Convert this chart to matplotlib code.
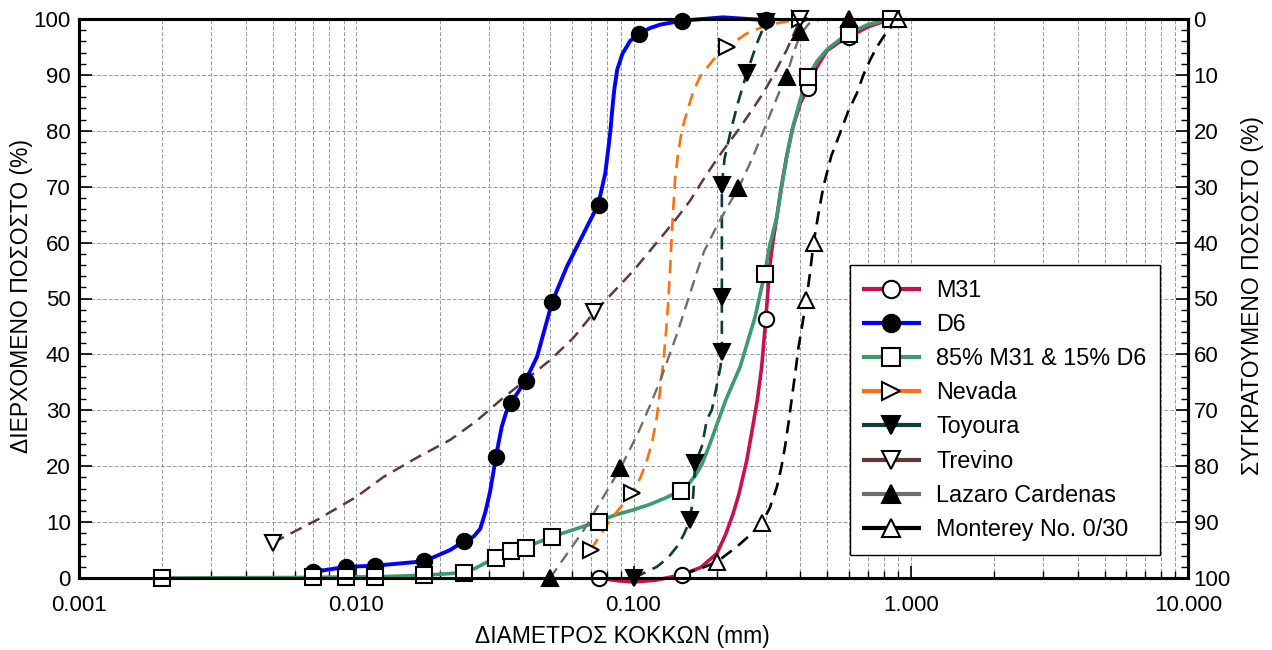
import matplotlib
matplotlib.use("Agg")
import matplotlib.pyplot as plt
from matplotlib.lines import Line2D
from matplotlib.ticker import FixedLocator, MultipleLocator, NullFormatter, LogLocator

plt.rcParams["font.family"] = ["Liberation Sans", "DejaVu Sans"]

# --- grading curves: (diameter mm, % passing) ---
# *_line_* = points, the rest = plotted markers
m31_line_d = [0.075, 0.088, 0.1, 0.12, 0.15, 0.175, 0.2, 0.215, 0.229, 0.24, 0.2561, 0.268,
              0.28, 0.29, 0.3, 0.305, 0.31, 0.319, 0.329, 0.34, 0.357, 0.375, 0.4, 0.425,
              0.46, 0.498, 0.55, 0.6, 0.7, 0.85]
m31_line_p = [0.0, -0.5, -0.7, -0.4, 0.6, 1.9, 4.4, 7.8, 11.6, 15.0, 21.0, 26.5,
              32.0, 37.8, 46.3, 51.0, 55.7, 60.5, 64.6, 69.5, 75.5, 80.5, 85.0, 87.6,
              91.5, 94.3, 95.8, 96.8, 98.6, 100]
m31_d = [0.075, 0.15, 0.3, 0.425, 0.6, 0.85]
m31_p = [0.0, 0.6, 46.3, 87.6, 96.8, 100]

d6_line_d = [0.007, 0.0092, 0.0117, 0.0176, 0.0218, 0.0245, 0.0265, 0.028, 0.0293, 0.0304,
             0.0312, 0.0319, 0.0327, 0.0335, 0.0347, 0.0361, 0.0408, 0.0449, 0.0509, 0.0575,
             0.0679, 0.0746, 0.0791, 0.0824, 0.0838, 0.0852, 0.0873, 0.0911, 0.0973, 0.105,
             0.115, 0.125, 0.15, 0.21, 0.3]
d6_line_p = [1.1, 2.0, 2.2, 3.0, 5.0, 6.6, 7.4, 8.8, 12.0, 15.5,
             18.8, 21.6, 24.5, 27.1, 29.6, 31.3, 35.3, 39.6, 49.4, 55.7,
             62.8, 66.8, 72.4, 79.6, 83.7, 87.3, 90.9, 93.7, 96.1, 97.4,
             98.4, 99.0, 99.7, 100.3, 99.8]
d6_d = [0.007, 0.0092, 0.0117, 0.0176, 0.0245, 0.0319, 0.0361, 0.0408, 0.0509, 0.075,
        0.105, 0.15, 0.3]
d6_p = [1.1, 2.0, 2.2, 3.0, 6.6, 21.6, 31.3, 35.3, 49.4, 66.8, 97.4, 99.7, 99.8]

mix_line_d = [0.002, 0.007, 0.0092, 0.0117, 0.0176, 0.0245, 0.027, 0.0295, 0.0319, 0.0361,
              0.0408, 0.0509, 0.0748, 0.085, 0.1, 0.115, 0.13, 0.148, 0.158, 0.168,
              0.1764, 0.188, 0.2, 0.215, 0.2425, 0.2745, 0.297, 0.31, 0.3288, 0.345,
              0.3573, 0.375, 0.399, 0.425, 0.46, 0.498, 0.55, 0.6, 0.7, 0.85]
mix_line_p = [0.0, 0.1, 0.2, 0.2, 0.5, 0.95, 1.8, 2.8, 3.5, 4.9,
              5.5, 7.4, 10.1, 11.2, 12.2, 13.2, 14.3, 15.6, 16.8, 18.5,
              20.3, 23.8, 27.5, 31.8, 37.8, 46.7, 54.4, 59.5, 64.6, 71.0,
              75.5, 80.5, 85.5, 89.6, 92.5, 94.5, 96.2, 97.4, 99.0, 100]
mix_d = [0.002, 0.007, 0.0092, 0.0117, 0.0176, 0.0245, 0.0319, 0.0361, 0.0408, 0.0509,
         0.075, 0.148, 0.297, 0.425, 0.6, 0.85]
mix_p = [0.0, 0.1, 0.2, 0.2, 0.5, 0.95, 3.5, 4.9, 5.3, 7.4, 10.1, 15.6, 54.4, 89.6, 97.4, 100]

nevada_line_d = [0.070, 0.0824, 0.099, 0.106, 0.1117, 0.117, 0.1214, 0.125, 0.1283, 0.131,
                 0.1337, 0.1356, 0.1375, 0.1395, 0.1413, 0.1445, 0.1474, 0.152, 0.158, 0.165,
                 0.174, 0.194, 0.217, 0.256, 0.303, 0.378, 0.40]
nevada_line_p = [5.0, 10.4, 15.2, 18.0, 21.0, 24.5, 28.8, 34.0, 39.0, 44.0,
                 50.0, 55.5, 61.7, 67.0, 71.5, 75.5, 78.4, 81.5, 84.3, 87.3,
                 89.7, 92.7, 95.0, 97.4, 98.9, 99.8, 100]
nevada_d = [0.070, 0.099, 0.217, 0.40]
nevada_p = [5.0, 15.2, 95.0, 100]

toyoura_line_d = [0.1, 0.105, 0.1214, 0.133, 0.1434, 0.152, 0.16, 0.164, 0.167, 0.1764,
                  0.1839, 0.1917, 0.206, 0.2083, 0.2083, 0.2083, 0.213, 0.2231, 0.238, 0.2561,
                  0.2785, 0.3]
toyoura_line_p = [0.0, 0.5, 2.0, 3.6, 5.6, 7.8, 10.4, 14.5, 20.5, 23.5,
                  28.3, 30.1, 37.8, 40.5, 50.3, 70.3, 75.0, 79.5, 85.0, 90.3,
                  95.6, 99.5]
toyoura_d = [0.1, 0.16, 0.167, 0.2083, 0.2083, 0.2083, 0.2561, 0.3]
toyoura_p = [0.0, 10.4, 20.5, 40.5, 50.3, 70.3, 90.3, 99.5]

trevino_line_d = [0.005, 0.00722, 0.01, 0.01256, 0.0165, 0.0218, 0.027, 0.0331, 0.041, 0.0501,
                  0.0608, 0.0723, 0.0859, 0.1, 0.1149, 0.13, 0.1434, 0.16, 0.174, 0.19,
                  0.2083, 0.24, 0.27, 0.2941, 0.32, 0.3573, 0.38, 0.4]
trevino_line_p = [6.3, 10.4, 14.5, 18.1, 21.5, 24.7, 28.0, 31.8, 35.5, 39.0,
                  43.0, 47.6, 51.5, 55.0, 58.6, 61.8, 64.4, 67.5, 70.4, 73.3,
                  76.2, 80.3, 84.0, 86.8, 90.0, 94.5, 97.5, 100]
trevino_d = [0.005, 0.0723, 0.4]
trevino_p = [6.3, 47.6, 100]

lazaro_line_d = [0.05, 0.066, 0.0896, 0.104, 0.115, 0.125, 0.135, 0.142, 0.152, 0.16,
                 0.17, 0.18, 0.2, 0.22, 0.239, 0.27, 0.3, 0.338, 0.357, 0.378,
                 0.40, 0.43, 0.47, 0.6]
lazaro_line_p = [0.0, 8.5, 19.6, 26.0, 31.0, 35.4, 40.0, 43.0, 47.5, 50.9,
                 55.0, 58.5, 63.0, 66.7, 69.7, 75.4, 81.0, 87.3, 90.0, 94.0,
                 97.3, 99.2, 99.9, 100]
lazaro_d = [0.05, 0.0896, 0.239, 0.357, 0.40, 0.6]
lazaro_p = [0.0, 19.6, 69.7, 89.7, 97.7, 100]

monterey_line_d = [0.15, 0.175, 0.2, 0.236, 0.265, 0.29, 0.31, 0.329, 0.342, 0.352,
                   0.363, 0.373, 0.384, 0.394, 0.407, 0.42, 0.433, 0.446, 0.464, 0.484,
                   0.517, 0.556, 0.595, 0.639, 0.675, 0.714, 0.755, 0.797, 0.85, 0.9]
monterey_line_p = [0.7, 1.7, 2.9, 5.6, 7.8, 9.8, 12.5, 16.3, 20.0, 23.5,
                   28.0, 32.4, 37.0, 41.4, 45.5, 49.7, 54.5, 59.9, 65.0, 70.0,
                   75.5, 79.6, 83.5, 86.7, 90.0, 92.7, 95.0, 96.8, 98.6, 100]
monterey_d = [0.2, 0.29, 0.42, 0.446, 0.9]
monterey_p = [2.9, 9.8, 49.7, 59.9, 100]

labels = ["M31", "D6", "85% M31 & 15% D6", "Nevada", "Toyoura", "Trevino",
          "Lazaro Cardenas", "Monterey No. 0/30"]
x_ticks = [0.001, 0.01, 0.1, 1.0, 10.0]
x_tick_labels = ["0.001", "0.010", "0.100", "1.000", "10.000"]

DASH = (0, (5, 3))
series = [
    (m31_line_d, m31_line_p, m31_d, m31_p, "#c8104f", "-", 2.6, "o", "white"),
    (d6_line_d, d6_line_p, d6_d, d6_p, "#0000ff", "-", 2.8, "o", "black"),
    (mix_line_d, mix_line_p, mix_d, mix_p, "#3a9c6c", "-", 2.6, "s", "white"),
    (nevada_line_d, nevada_line_p, nevada_d, nevada_p, "#ff6f0f", DASH, 1.9, ">", "white"),
    (toyoura_line_d, toyoura_line_p, toyoura_d, toyoura_p, "#0a3c3a", DASH, 1.9, "v", "black"),
    (trevino_line_d, trevino_line_p, trevino_d, trevino_p, "#603a3a", DASH, 1.8, "v", "white"),
    (lazaro_line_d, lazaro_line_p, lazaro_d, lazaro_p, "#6e6e6e", DASH, 1.7, "^", "black"),
    (monterey_line_d, monterey_line_p, monterey_d, monterey_p, "black", DASH, 1.9, "^", "white"),
]

fig = plt.figure(figsize=(12.72, 6.5), dpi=100)
ax = fig.add_axes([79 / 1272, 1 - 578 / 650, 1109 / 1272, 559 / 650])

handles = []
for i, (ld, lp, md, mp, col, ls, lw, mk, fc) in enumerate(series):
    ax.plot(ld, lp, color=col, ls=ls, lw=lw, zorder=3 + i * 0.01, clip_on=False,
            solid_joinstyle="round", dash_joinstyle="round")
    ax.plot(md, mp, ls="none", marker=mk, ms=11, mfc=fc, mec="black", mew=1.5,
            zorder=5, clip_on=False)
    handles.append(Line2D([], [], color=col, ls="-", lw=3, marker=mk, ms=12.5,
                          mfc=fc, mec="black", mew=1.5))

ax.set_xscale("log")
ax.set_xlim(0.001, 10)
ax.set_ylim(0, 100)
ax.xaxis.set_major_locator(FixedLocator(x_ticks))
ax.set_xticklabels(x_tick_labels)
ax.xaxis.set_minor_locator(LogLocator(base=10, subs=range(2, 10), numticks=20))
ax.xaxis.set_minor_formatter(NullFormatter())
ax.yaxis.set_major_locator(MultipleLocator(10))
ax.yaxis.set_minor_locator(MultipleLocator(2))

ax.grid(True, which="both", axis="x", color="0.6", ls=(0, (4, 2)), lw=0.7)
ax.grid(True, which="major", axis="y", color="0.6", ls=(0, (4, 2)), lw=0.7)
ax.set_axisbelow(True)

ax.tick_params(axis="both", which="major", direction="in", length=9, width=1.2,
               labelsize=16, pad=6)
ax.tick_params(axis="both", which="minor", direction="in", length=5, width=1.0)
ax.tick_params(axis="x", which="major", pad=12)
for s in ax.spines.values():
    s.set_linewidth(2.2)

ax2 = ax.twinx()
ax2.set_ylim(100, 0)
ax2.yaxis.set_major_locator(MultipleLocator(10))
ax2.yaxis.set_minor_locator(MultipleLocator(2))
ax2.tick_params(axis="y", which="major", direction="in", length=9, width=1.2,
                labelsize=16, pad=4)
ax2.tick_params(axis="y", which="minor", direction="in", length=5, width=1.0)
for s in ax2.spines.values():
    s.set_linewidth(2.2)

fig.text(622 / 1272, 1 - 636 / 650, "ΔΙΑΜΕΤΡΟΣ ΚΟΚΚΩΝ (mm)", fontsize=16.5,
         ha="center", va="center")
fig.text(22 / 1272, 1 - 296 / 650, "ΔΙΕΡΧΟΜΕΝΟ ΠΟΣΟΣΤΟ (%)", fontsize=16.5,
         rotation=90, ha="center", va="center")
fig.text(1252 / 1272, 1 - 296 / 650, "ΣΥΓΚΡΑΤΟΥΜΕΝΟ ΠΟΣΟΣΤΟ (%)", fontsize=16.5,
         rotation=90, ha="center", va="center")

leg = ax2.legend(handles, labels, loc="lower left", bbox_to_anchor=(0.695, 0.041),
                 fontsize=16.8, frameon=True, fancybox=False, edgecolor="black",
                 framealpha=1, handlelength=2.35, handletextpad=0.75,
                 labelspacing=0.48, borderpad=0.6, borderaxespad=0)
leg.get_frame().set_linewidth(1.0)
leg.set_zorder(10)

fig.savefig("out.png", dpi=100)
